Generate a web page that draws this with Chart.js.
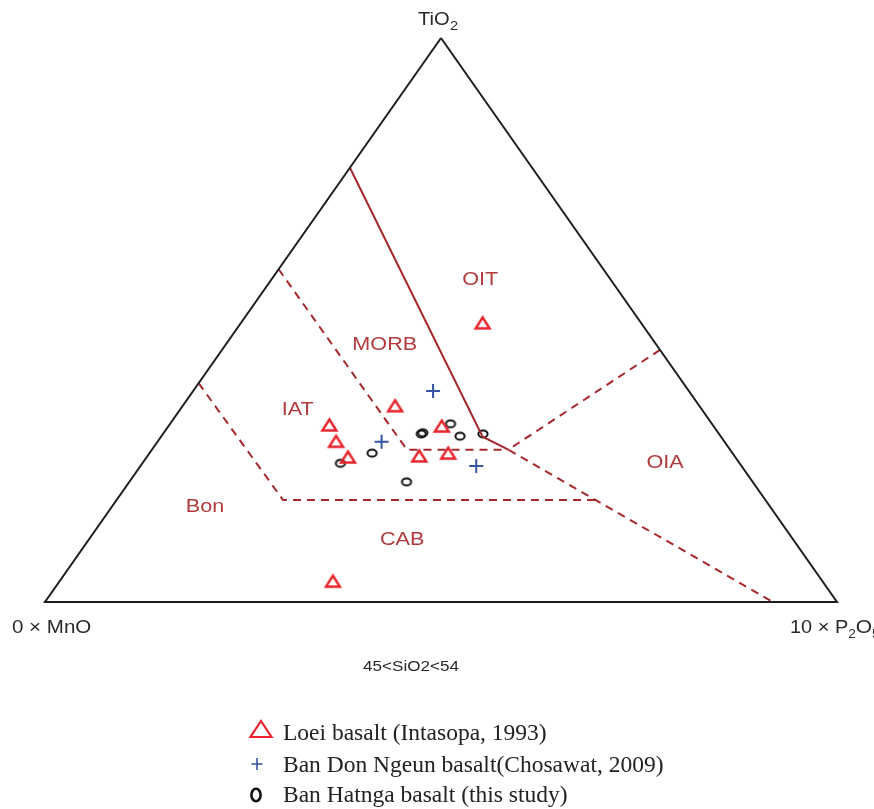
<!DOCTYPE html>
<html><head><meta charset="utf-8">
<script src="https://cdn.jsdelivr.net/npm/chart.js@4.4.0/dist/chart.umd.min.js"></script>
<style>html,body{margin:0;padding:0;background:#fff;overflow:hidden}#wrap{position:relative;width:874px;height:809px}</style>
</head><body><div id="wrap"><canvas id="c"></canvas></div>
<script>
// Ternary compositions (percent): TiO2 (top), 10×MnO (left), 10×P2O5 (right)
const loeiTiO2 = [49.5, 34.8, 31.2, 31.4, 28.5, 25.7, 25.9, 26.4, 3.7];
const loeiMnO  = [20.0, 38.4, 34.3, 48.4, 49.0, 48.9, 39.8, 35.9, 61.8];
const loeiP2O5 = [30.5, 26.8, 34.5, 20.2, 22.5, 25.4, 34.3, 37.7, 34.5];

const donTiO2 = [37.4, 28.4, 24.1];
const donMnO  = [32.3, 43.3, 33.5];
const donP2O5 = [30.3, 28.3, 42.4];

const hatTiO2 = [24.6, 26.4, 29.8, 30.0, 31.6, 29.4, 29.8, 21.3];
const hatMnO  = [50.4, 45.5, 37.6, 37.3, 33.0, 32.9, 29.8, 43.7];
const hatP2O5 = [25.0, 28.1, 32.6, 32.7, 35.4, 37.7, 40.4, 35.0];

const seriesNames = ['Loei basalt (Intasopa, 1993)', 'Ban Don Ngeun basalt(Chosawat, 2009)', 'Ban Hatnga basalt (this study)'];

// Field boundaries (Mullen 1983), as [TiO2, MnO, P2O5]
const triangleEdge = [[100,0,0],[0,100,0],[0,0,100],[100,0,0]];
const lineOitMorb  = [[77,23,0],[29.3,30.1,40.6],[27,28,45]];
const lineMorbIat  = [[59,41,0],[27,40.8,32.2],[27,28,45]];
const lineOia      = [[44.7,0,55.3],[27,28,45],[0,8.1,91.9]];
const lineBon      = [[38.8,61.2,0],[18.1,60.9,21.0],[18.1,21.1,60.8]];

const regionNames = ['OIT','MORB','IAT','OIA','Bon','CAB'];
const regionAt = [[57.1,16.5,26.4],[45.6,34.3,20.1],[34.0,51.1,14.9],[24.6,9.4,66.0],[16.8,71.4,11.8],[11.0,49.4,39.6]];

const ternToXY = (t,m,p) => { const s=t+m+p; return {x:(p+t/2)/s, y:t/s}; };
const series = (T,M,P) => T.map((t,i)=>ternToXY(t,M[i],P[i]));
const path = pts => pts.map(([t,m,p])=>ternToXY(t,m,p));

const RED='#e8232b', BLUE='#3553a3', FIELD='#a5282c', LABEL='#b03a3c', INK='#2a2a2a';

function makeTri(w,h,lw,col){
  const c=document.createElement('canvas'); c.width=Math.ceil(w+lw*2+2); c.height=Math.ceil(h+lw*2+2);
  const g=c.getContext('2d'); const cx=c.width/2, cy=c.height/2;
  g.strokeStyle=col; g.lineWidth=lw; g.lineJoin='miter';
  g.beginPath(); g.moveTo(cx,cy-h/2); g.lineTo(cx+w/2,cy+h/2); g.lineTo(cx-w/2,cy+h/2); g.closePath(); g.stroke();
  return c;
}
function makeEll(rx,ry,lw,col){
  const c=document.createElement('canvas'); c.width=Math.ceil(rx*2+lw*2+2); c.height=Math.ceil(ry*2+lw*2+2);
  const g=c.getContext('2d'); g.strokeStyle=col; g.lineWidth=lw;
  g.beginPath(); g.ellipse(c.width/2,c.height/2,rx,ry,0,0,Math.PI*2); g.stroke();
  return c;
}
const triImg = makeTri(14,11,2.4,RED);
const ellImg = makeEll(4.6,3.6,2,'#111');

function lineDs(pts,dashed,color,w){
  return {data:path(pts),showLine:true,pointRadius:0,borderColor:color||FIELD,borderWidth:w||2,
          borderDash:dashed?[8,6]:[],fill:false,tension:0,clip:false};
}

function sText(ctx,str,x,y,font,color,sx,align,base){
  ctx.save(); ctx.font=font; ctx.fillStyle=color; ctx.textAlign=align||'left'; ctx.textBaseline=base||'alphabetic';
  ctx.translate(x,y); ctx.scale(sx,1); ctx.fillText(str,0,0); ctx.restore();
}

const textPlugin = {
  id:'texts',
  afterDraw(chart){
    const ctx=chart.ctx, xs=chart.scales.x, ys=chart.scales.y;
    regionNames.forEach((n,i)=>{
      const q=ternToXY(...regionAt[i]);
      sText(ctx,n,xs.getPixelForValue(q.x),ys.getPixelForValue(q.y),'18px "Liberation Sans"',LABEL,1.2,'center','middle');
    });
    const top=ternToXY(100,0,0);
    const tx=xs.getPixelForValue(top.x), ty=ys.getPixelForValue(top.y);
    sText(ctx,'TiO',tx-23,ty-13,'18px "Liberation Sans"',INK,1.12,'left');
    sText(ctx,'2',tx+9,ty-8,'13px "Liberation Sans"',INK,1.12,'left');
    const left=ternToXY(0,100,0);
    const lx=xs.getPixelForValue(left.x), ly=ys.getPixelForValue(left.y);
    sText(ctx,'0 × MnO',lx-33,ly+31,'19px "Liberation Sans"',INK,1.08,'left');
    const right=ternToXY(0,0,100);
    const rx=xs.getPixelForValue(right.x), ry=ys.getPixelForValue(right.y);
    ctx.save(); ctx.font='19px "Liberation Sans"';
    let x=rx-47;
    sText(ctx,'10 × P',x,ry+31,'19px "Liberation Sans"',INK,1.05,'left');
    x += ctx.measureText('10 × P').width*1.05;
    ctx.font='13px "Liberation Sans"';
    sText(ctx,'2',x,ry+36,'13px "Liberation Sans"',INK,1.05,'left');
    x += ctx.measureText('2').width*1.05;
    sText(ctx,'O',x,ry+31,'19px "Liberation Sans"',INK,1.1,'left');
    ctx.font='19px "Liberation Sans"';
    x += ctx.measureText('O').width*1.1;
    sText(ctx,'5',x,ry+36,'13px "Liberation Sans"',INK,1.05,'left');
    ctx.restore();
    sText(ctx,'45<SiO2<54',411,671,'14px "Liberation Sans"',INK,1.22,'center');
    // legend markers
    ctx.save();
    ctx.strokeStyle=RED; ctx.lineWidth=2.2;
    ctx.beginPath(); ctx.moveTo(261,721); ctx.lineTo(271.5,737); ctx.lineTo(250.5,737); ctx.closePath(); ctx.stroke();
    ctx.strokeStyle=BLUE; ctx.lineWidth=1.6;
    ctx.beginPath(); ctx.moveTo(251.5,764); ctx.lineTo(262.5,764); ctx.moveTo(257,758); ctx.lineTo(257,770); ctx.stroke();
    ctx.strokeStyle='#111'; ctx.lineWidth=2.6;
    ctx.beginPath(); ctx.ellipse(256,795,4.6,6.2,0,0,Math.PI*2); ctx.stroke();
    ctx.restore();
    const baseY=[740,772,802];
    seriesNames.forEach((s,i)=>sText(ctx,s,283,baseY[i],'23.5px "Liberation Serif"','#222',1,'left'));
  }
};

new Chart(document.getElementById('c'),{
  type:'scatter',
  data:{datasets:[
    lineDs(triangleEdge,false,'#1e1e1e',2),
    lineDs(lineOitMorb,false),
    lineDs(lineMorbIat,true),
    lineDs(lineOia,true),
    lineDs(lineBon,true),
    {label:seriesNames[0],data:series(loeiTiO2,loeiMnO,loeiP2O5),pointStyle:triImg,pointRadius:8,clip:false},
    {label:seriesNames[1],data:series(donTiO2,donMnO,donP2O5),pointStyle:'cross',pointRadius:7,borderColor:BLUE,borderWidth:2,clip:false},
    {label:seriesNames[2],data:series(hatTiO2,hatMnO,hatP2O5),pointStyle:ellImg,pointRadius:5,clip:false}
  ]},
  options:{
    animation:false,responsive:true,maintainAspectRatio:false,
    layout:{padding:{left:45,right:37,top:38,bottom:207}},
    scales:{x:{type:'linear',min:0,max:1,display:false},y:{type:'linear',min:0,max:1,display:false}},
    plugins:{legend:{display:false},tooltip:{enabled:false}},
    elements:{point:{hoverRadius:0}}
  },
  plugins:[textPlugin]
});
</script></body></html>
